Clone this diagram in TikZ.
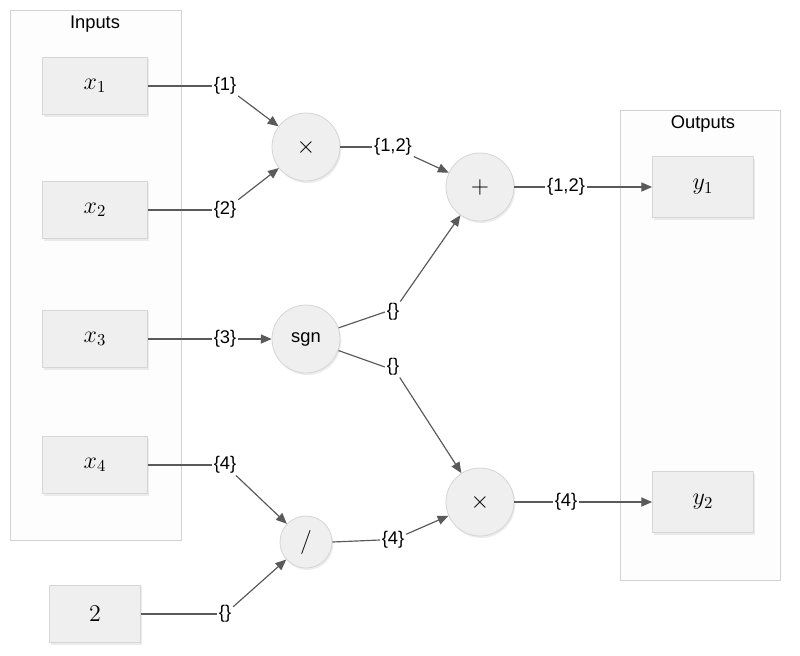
\documentclass[tikz,border=0pt]{standalone}
\usepackage{amsmath,amssymb}
\usepackage{fontspec}
\setsansfont{Liberation Sans}
\usetikzlibrary{shapes,arrows.meta,shadows}
\definecolor{boxfill}{HTML}{EFEFEF}
\definecolor{boxline}{HTML}{D6D6D6}
\definecolor{grpline}{HTML}{D2D2D2}
\definecolor{grpfill}{HTML}{FDFDFD}
\definecolor{wire}{HTML}{5A5A5A}

\begin{document}
\begin{tikzpicture}[x=0.6pt,y=-0.6pt]
% -------------------------------------------------
% Styles for the groups, the boxes and the operators
\tikzset{
  node font=\fontsize{11}{13}\sffamily,
  group/.style={draw=grpline, fill=grpfill, line width=0.6pt,
    drop shadow={shadow xshift=0.8pt, shadow yshift=-0.8pt, fill=black!12}},
  grptitle/.style={inner sep=0pt},
  var/.style={draw=boxline, fill=boxfill, line width=0.5pt,
    minimum width=63pt, minimum height=34.5pt,
    font=\Large,
    drop shadow={shadow xshift=0.8pt, shadow yshift=-1.2pt, fill=black!15}},
  op/.style={circle, draw=boxline, fill=boxfill, line width=0.5pt,
    minimum size=40.8pt, inner sep=0pt,
    drop shadow={shadow xshift=0.8pt, shadow yshift=-1.2pt, fill=black!15}},
  opsym/.style={op, font=\Large},
  tag/.style={inner sep=1pt, font=\fontsize{11}{13}\sffamily},
  % -------------------------------------------------
  % Connector line styles
  wireline/.style={draw=wire, line width=0.7pt},
  flow/.style={wireline, -{Triangle[length=6.5pt,width=5.5pt]}, fill=wire},
}
\useasboundingbox (0,0) rectangle (800,655);
% -------------------------------------------------
% Group frames
\node [group, minimum width=102.6pt, minimum height=318pt] (inputs) at (95.5,275) {};
\node [grptitle] (intitle) at (95,24) {Inputs};
\node [group, minimum width=96pt, minimum height=282pt] (outputs) at (700,345) {};
\node [grptitle] (outtitle) at (703,124) {Outputs};
% -------------------------------------------------
% Input and output boxes
\node [var] (x1) at (95,86) {$x_1$};
\node [var] (x2) at (95,210) {$x_2$};
\node [var] (x3) at (95,339) {$x_3$};
\node [var] (x4) at (95,465) {$x_4$};
\node [var, minimum width=54.6pt] (two) at (95,614) {$2$};
\node [var, minimum width=60.6pt, minimum height=36.6pt] (y1) at (703,187) {$y_1$};
\node [var, minimum width=60.6pt, minimum height=36.6pt] (y2) at (703,502) {$y_2$};
% -------------------------------------------------
% Operators
\node [opsym] (mul1) at (306,147) {$\times$};
\node [opsym] (plus) at (480,187) {$+$};
\node [op] (sgn) at (306,339) {sgn};
\node [opsym] (mul2) at (480,502) {$\times$};
\node [opsym, minimum size=31.2pt] (div) at (306,542) {$/$};
% -------------------------------------------------
% Connector labels
\node [tag] (t1) at (225,86) {\{1\}};
\node [tag] (t2) at (225,210) {\{2\}};
\node [tag] (t3) at (225,339) {\{3\}};
\node [tag] (t4) at (225,465) {\{4\}};
\node [tag] (t5) at (225,614) {\{\}};
\node [tag] (t12) at (393,147) {\{1,2\}};
\node [tag] (tsp) at (393,312) {\{\}};
\node [tag] (tsm) at (393,367) {\{\}};
\node [tag] (tdv) at (393,540) {\{4\}};
\node [tag] (ty1) at (566,187) {\{1,2\}};
\node [tag] (ty2) at (566,502) {\{4\}};
% -------------------------------------------------
% Connectors: first leg to the label, then arrow to the target
\draw [wireline] (x1.east) -- (t1.west);
\draw [flow] (t1) -- (mul1);
\draw [wireline] (x2.east) -- (t2.west);
\draw [flow] (t2) -- (mul1);
\draw [wireline] (x3.east) -- (t3.west);
\draw [flow] (t3) -- (sgn);
\draw [wireline] (x4.east) -- (t4.west);
\draw [flow] (t4) -- (div);
\draw [wireline] (two.east) -- (t5.west);
\draw [flow] (t5) -- (div);
% -------------------------------------------------
\draw [wireline] (mul1.east) -- (t12.west);
\draw [flow] (t12) -- (plus);
\draw [wireline] (sgn) -- (tsp.west);
\draw [flow] (tsp) -- (plus);
\draw [wireline] (sgn) -- (tsm.west);
\draw [flow] (tsm) -- (mul2);
\draw [wireline] (div.east) -- (tdv.west);
\draw [flow] (tdv) -- (mul2);
% -------------------------------------------------
\draw [wireline] (plus.east) -- (ty1.west);
\draw [flow] (ty1) -- (y1);
\draw [wireline] (mul2.east) -- (ty2.west);
\draw [flow] (ty2) -- (y2);
% -------------------------------------------------
\end{tikzpicture}
\end{document}
